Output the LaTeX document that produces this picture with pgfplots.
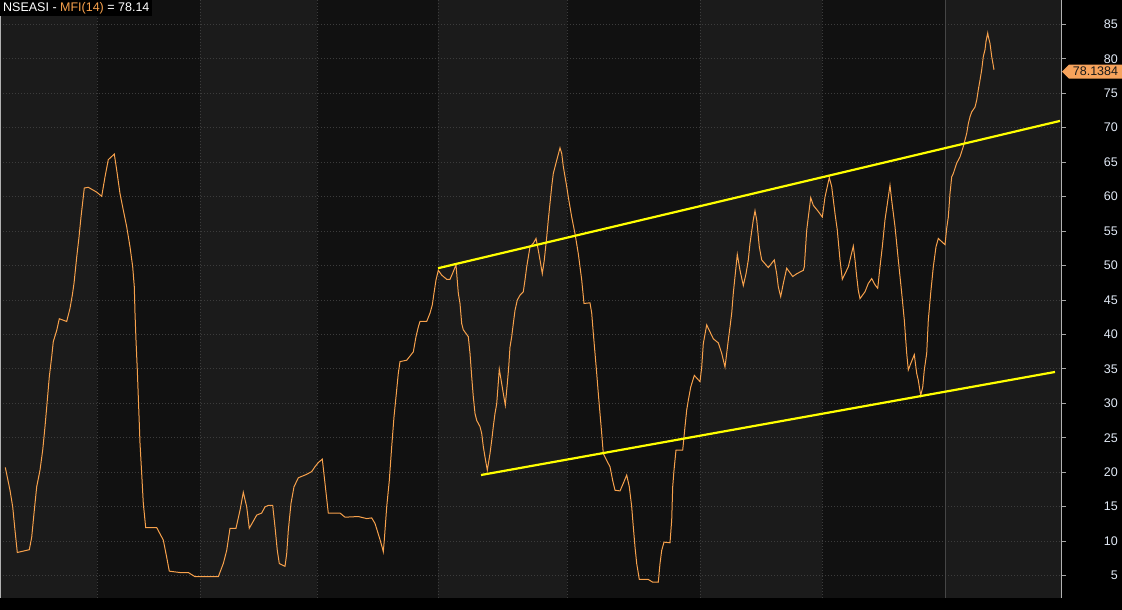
\documentclass[border=0pt]{standalone}
\usepackage{pgfplots}
\pgfplotsset{compat=1.18}
\usepackage{fontspec}
\setmainfont{Liberation Sans}
\definecolor{mfi}{HTML}{F7A14C}
\definecolor{tagc}{HTML}{F7A35C}
\definecolor{bandL}{HTML}{1B1B1B}
\definecolor{bandD}{HTML}{111111}
\definecolor{gridc}{HTML}{3C3C3C}
\definecolor{tickc}{HTML}{E2EAF6}
\definecolor{yel}{HTML}{FFFF00}
\pgfdeclarelayer{bg}
\pgfsetlayers{bg,main}
\begin{document}
\begin{tikzpicture}[x=1pt,y=1pt]
\begin{axis}[
  at={(0,12)}, anchor=south west, scale only axis,
  width=1061pt, height=598pt,
  xmin=0, xmax=1061, ymin=1.75, ymax=88.53,
  clip=false,
  y filter/.expression={5.0436+(y-5)*1.00363},
  axis line style={draw=none},
  xtick={97,200,317,438,567,700,822}, xticklabels={}, xmajorgrids,
  xtick pos=bottom,
  xtick style={draw=none},
  xticklabel style={inner sep=0pt},
  ytick={5,10,...,85}, ymajorgrids,
  ytick pos=right, yticklabel pos=right,
  tick align=outside, major tick length=5pt,
  ytick style={draw=gray!70, line width=0.8pt},
  major grid style={draw=gridc, line width=0.9pt, dash pattern=on 1pt off 2pt},
  yticklabel style={anchor=east, inner sep=0pt, xshift=52pt, text=tickc,
    font=\fontsize{12.5}{14}\selectfont},
  /pgf/number format/assume math mode=true,
]
\coordinate (O) at (rel axis cs:0,0);
\draw[draw=gray!55!black, line width=1pt] (axis cs:945,1.75) -- (axis cs:945,88.53);
\draw[draw=gray!60, line width=1pt] (axis cs:1061,1.75) -- (axis cs:1061,88.53);
\draw[draw=gray!60, line width=1pt] (axis cs:0.5,1.75) -- (axis cs:0.5,88.53);
\addplot[mfi, line width=1pt] coordinates {
(5.3,20.6)(7.3,19.2)(10,17.3)(12.7,14.9)(15,11.5)(17.3,8.3)(29.3,8.7)(31.7,10.5)(34.3,14.4)
(36.7,17.8)(40,20.2)(42.7,23.1)(45,26.5)(47,29.8)(49.3,33.7)(51.7,36.6)(53.3,38.8)(56.7,40.4)
(59.3,42.1)(66.7,41.7)(70,43.6)(72.3,45.5)(74,47.2)(76.7,51.0)(79,53.9)(81,56.8)(84.3,61.0)
(88.3,61.1)(96.7,60.4)(101.7,59.8)(105,62.6)(108.3,65.1)(114.3,65.9)(116.7,63.6)(120,60.2)
(123.3,57.8)(126.7,55.4)(130,52.5)(132.7,49.6)(134.3,46.7)(135,42.9)(136,39.0)(137.3,34.7)
(138.3,30.8)(139.3,26.9)(140,24.1)(141.7,19.7)(143.3,15.4)(145.7,11.9)(156.7,11.9)(160,11.0)
(163.3,10.1)(166.7,7.6)(169.3,5.6)(180,5.4)(188.3,5.4)(195,4.8)(218.3,4.8)(223.3,6.7)
(226.7,8.6)(230,11.8)(236,11.8)(240,14.4)(243.3,17.0)(246.7,14.9)(249.3,11.8)(256.7,13.7)
(261.7,14.0)(265,14.9)(268.3,15.1)(272.7,15.1)(275,12.0)(277.3,8.6)(279.3,6.7)(285,6.3)
(286.7,8.1)(288.3,11.5)(291,15.4)(294,17.8)(298.3,19.1)(306.7,19.6)(311.7,20.0)(315,20.7)
(318.3,21.3)(322.3,21.8)(325,18.3)(328.3,14.0)(340,14.0)(345,13.4)(358.3,13.5)(366.7,13.2)
(371.7,13.3)(375,12.5)(379.3,10.5)(381.7,9.3)(383.3,8.4)(384.3,10.1)(386.7,14.9)(389.3,18.7)
(391.7,23.6)(394,27.9)(396,30.8)(398.3,34.2)(400,35.9)(406.7,36.1)(413.3,37.3)(416,39.5)
(418.3,40.9)(420,41.7)(426.7,41.7)(430,42.9)(432.3,44.1)(434,45.8)(436,47.7)(438.3,49.1)
(441.7,48.4)(446.7,47.8)(450,47.8)(453.3,48.9)(456,49.9)(458.3,45.8)(460,44.3)(461.7,41.4)
(463.3,40.5)(468.3,39.5)(470,37.1)(471.7,33.7)(473.3,30.8)(475,28.4)(476.7,27.4)(480,26.5)
(481.7,25.5)(483.3,23.6)(485,22.1)(487.3,20.2)(490,22.6)(491.7,24.5)(493.3,26.5)(495,28.4)
(496.7,29.8)(499.3,34.8)(501.7,32.7)(503.3,31.3)(505.3,29.6)(507.3,32.7)(508.7,35.1)(510,38.0)
(511.7,39.5)(513.3,41.4)(515,43.3)(517.3,44.8)(520,45.5)(523.3,46.0)(525,47.7)(526.7,49.6)
(528.3,51.0)(530,52.5)(533.3,53.0)(536,53.7)(538.3,52.0)(540,50.6)(542.3,48.6)(544.3,50.6)
(546.7,53.9)(548.3,56.4)(550,58.8)(551.7,61.2)(553.3,63.1)(556.7,65.0)(560,66.8)(561.7,66.0)
(563.3,64.1)(566.7,61.2)(568.3,59.7)(571.7,56.8)(575,54.4)(578.3,51.5)(581.7,47.7)(584,44.3)
(590,44.4)(591.7,42.9)(593.3,40.0)(595,37.1)(596.7,34.2)(598.3,31.3)(600,28.4)(601.7,25.5)
(603.3,22.6)(606.7,21.6)(610,20.7)(612.7,18.7)(615,17.3)(620,17.2)(623.3,18.3)(626.7,19.5)
(629.3,17.8)(631.7,14.9)(633.3,12.0)(635,9.1)(636.7,6.7)(639.3,4.4)(643.3,4.4)(648.3,4.4)
(652.7,4.0)(658.3,4.0)(660,6.7)(661.7,8.6)(664,9.8)(670,9.7)(671.7,13.0)(672.7,17.8)
(674,20.2)(676,23.1)(682.7,23.1)(685,26.5)(686.7,28.9)(688.3,30.3)(690.7,32.2)(694.3,33.9)
(700,33.0)(701.7,35.1)(703.3,38.5)(706.7,41.2)(710,40.2)(713.3,39.2)(718.3,38.6)(721.7,37.1)
(725,35.1)(726.7,37.1)(728.3,39.0)(730,40.9)(731.7,42.9)(733.3,45.8)(737.3,51.4)(740,49.1)
(743.3,46.9)(746,48.6)(748.3,50.6)(750,53.0)(753.3,56.4)(755,57.7)(756.7,56.4)(759.3,52.5)
(761.7,50.6)(768.3,49.5)(774.3,50.6)(776.7,48.6)(778.3,46.7)(780.7,45.3)(783.3,47.2)(786.7,49.4)
(792.7,48.2)(796.7,48.6)(803.3,49.1)(804.3,49.6)(806.7,54.9)(810.7,59.6)(813.3,58.5)(818.3,57.6)
(822.3,56.8)(825,59.7)(829.3,62.5)(831.7,61.2)(835,57.3)(837.3,54.9)(840,50.6)(842.3,47.8)
(845,48.6)(848.3,49.6)(853.3,52.6)(855,50.6)(856.7,48.2)(858.3,46.2)(860,45.0)(865,46.0)
(868.3,47.2)(871.7,47.9)(875,47.0)(877.7,46.5)(880,49.6)(882.3,52.5)(885,56.4)(888.3,59.7)
(890,61.4)(891.7,59.2)(895,55.4)(898.3,50.6)(901.7,45.8)(904.3,41.9)(906.7,37.1)(908.3,34.7)
(910.7,35.6)(914.3,36.9)(916.7,34.2)(918.3,33.2)(920.7,31.0)(922.7,32.2)(924.3,34.7)(926.7,37.1)
(928.3,41.9)(930.7,45.8)(933.3,49.6)(936,52.5)(938.3,53.7)(945,52.8)(946.7,55.2)(948.3,56.8)
(950,60.2)(951.7,62.6)(953.3,63.1)(956.7,64.6)(960,65.5)(963.3,67.0)(966.7,68.9)(968.3,70.3)
(970,71.3)(971.7,72.0)(975,72.7)(976.7,73.7)(978.3,75.2)(980,76.6)(981.7,78.1)(983.3,80.0)
(985,81.0)(986,82.2)(987.7,83.4)(988.3,82.9)(990,81.9)(991.7,80.0)(994,78.1)
};
\addplot[yel, line width=2.2pt] coordinates {(438,49.4)(1060,70.7)};
\addplot[yel, line width=2.2pt] coordinates {(481,19.5)(1055,34.4)};
\end{axis}
% everything below is placed relative to the axis origin O (image y -> 598 - y)
\begin{pgfonlayer}{bg}
\begin{scope}[shift={(O)}]
\fill[black] (0,-12) rectangle (1122,598);
\fill[bandL] (0,0) rectangle (97,598);
\fill[bandD] (97,0) rectangle (200,598);
\fill[bandL] (200,0) rectangle (317,598);
\fill[bandD] (317,0) rectangle (438,598);
\fill[bandL] (438,0) rectangle (567,598);
\fill[bandD] (567,0) rectangle (700,598);
\fill[bandL] (700,0) rectangle (822,598);
\fill[bandD] (822,0) rectangle (945,598);
\fill[bandL] (945,0) rectangle (1061,598);
\end{scope}
\end{pgfonlayer}
\begin{scope}[shift={(O)}]
\fill[tagc] (1062,526.3) -- (1069,533.3) -- (1122,533.3) -- (1122,519.3) -- (1069,519.3) -- cycle;
\node[anchor=center, inner sep=0pt, text=black!90, font=\fontsize{12.5}{14}\selectfont] at (1095.5,526.3) {78.1384};
\node[anchor=north west, fill=black, inner xsep=3pt, inner ysep=2pt, text=white,
  font=\fontsize{12.5}{14}\selectfont] at (0,598) {NSEASI - \textcolor{mfi}{MFI(14)} = 78.14};
\end{scope}
\pgfresetboundingbox
\path[use as bounding box] ([shift={(0,-12)}]O) rectangle ([shift={(1122,598)}]O);
\end{tikzpicture}
\end{document}
